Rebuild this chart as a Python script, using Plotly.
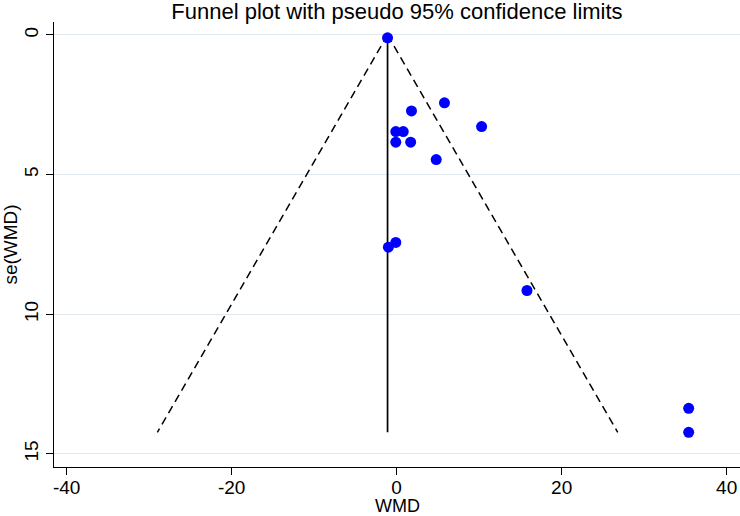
import plotly.graph_objects as go

# Study estimates (WMD) and their standard errors
wmd = [-1.1, 5.8, 1.8, 10.3, -0.1, 0.8, -0.1, 1.7, 4.8, -1.0, -0.1, 15.8, 35.4, 35.4]
se_wmd = [0.1, 2.43, 2.72, 3.28, 3.46, 3.46, 3.84, 3.84, 4.46, 7.6, 7.43, 9.15, 13.37, 14.23]

# Pooled estimate line and pseudo 95% confidence limits
pooled_x = [-1.1, -1.1]
pooled_se = [0.0, 14.23]
lower_x = [-1.1, -29.0]
upper_x = [-1.1, 26.8]
limit_se = [0.0, 14.23]

x_ticks = [-40, -20, 0, 20, 40]
y_ticks = [0, 5, 10, 15]

FONT = "Liberation Sans, Arial, sans-serif"

fig = go.Figure()
fig.add_trace(go.Scatter(x=lower_x, y=limit_se, mode="lines",
                         line=dict(color="black", width=1.5, dash="8px,5px"),
                         showlegend=False, hoverinfo="skip"))
fig.add_trace(go.Scatter(x=upper_x, y=limit_se, mode="lines",
                         line=dict(color="black", width=1.5, dash="8px,5px"),
                         showlegend=False, hoverinfo="skip"))
fig.add_trace(go.Scatter(x=pooled_x, y=pooled_se, mode="lines",
                         line=dict(color="black", width=1.7),
                         showlegend=False, hoverinfo="skip"))
fig.add_trace(go.Scatter(x=wmd, y=se_wmd, mode="markers",
                         marker=dict(color="#0000ff", size=11),
                         showlegend=False))

fig.update_layout(
    width=740, height=516,
    margin=dict(l=54, r=0, t=22, b=49),
    paper_bgcolor="white", plot_bgcolor="white",
    font=dict(family=FONT, size=19, color="black"),
    title=dict(text="Funnel plot with pseudo 95% confidence limits",
               x=397/740, xanchor="center", y=1 - 11/516, yanchor="middle",
               font=dict(family=FONT, size=22, color="black")),
    annotations=[dict(text="WMD", xref="paper", yref="paper", x=(397 - 54) / 686, y=0,
                      xanchor="center", yanchor="middle", yshift=-39, showarrow=False,
                      font=dict(family=FONT, size=18, color="black"))],
)
fig.update_xaxes(
    range=[-41.53, 41.62], tickvals=x_ticks, ticktext=[str(v) for v in x_ticks],
    showgrid=False, zeroline=False, automargin=False,
    showline=True, linecolor="black", linewidth=1,
    ticks="outside", ticklen=7, tickcolor="black", tickwidth=1,
    tickfont=dict(size=19), ticklabelstandoff=-4,
)
fig.update_yaxes(
    range=[15.47, -0.465], tickvals=y_ticks, ticktext=[str(v) for v in y_ticks],
    showgrid=True, gridcolor="#dfe8ee", gridwidth=1, zeroline=False, automargin=False,
    showline=True, linecolor="black", linewidth=1,
    ticks="outside", ticklen=7, tickcolor="black", tickwidth=1,
    tickangle=-90, tickfont=dict(size=19),
    title=dict(text="se(WMD)", font=dict(size=19), standoff=2),
)

fig.write_html("out.html",
               config={"displayModeBar": False},
               post_script="document.body.style.margin='0';document.body.style.overflow='hidden';")
